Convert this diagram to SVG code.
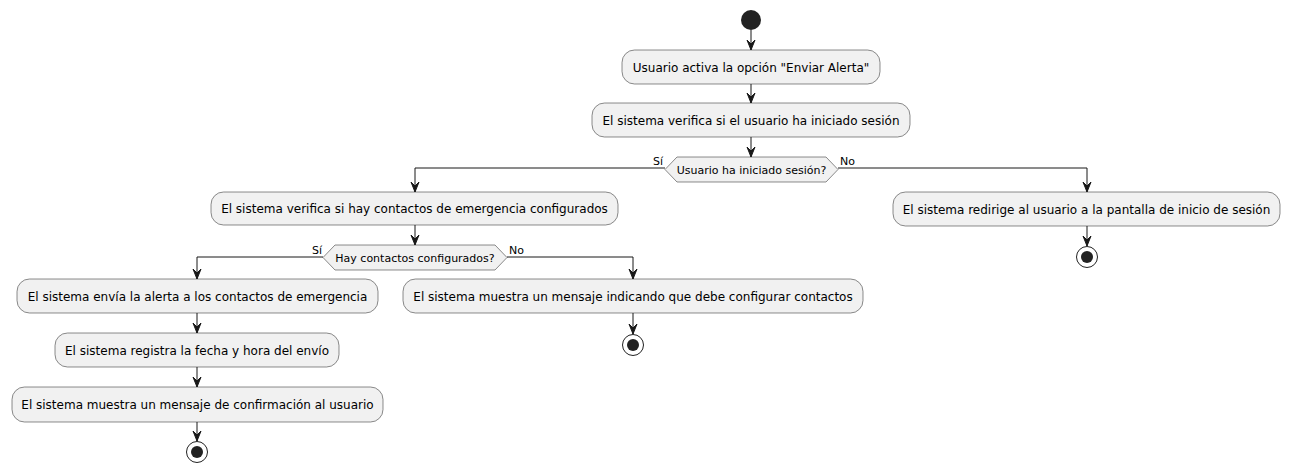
<svg xmlns="http://www.w3.org/2000/svg" width="1290" height="473" viewBox="0 0 1290 473">
<defs>
<style>
.box{fill:#F1F1F1;stroke:#181818;stroke-width:0.5}
.t{font-family:"DejaVu Sans",sans-serif;font-size:12px;fill:#000;text-anchor:middle}
.l{font-family:"DejaVu Sans",sans-serif;font-size:11px;fill:#000}
.ln{fill:none;stroke:#181818;stroke-width:1}
.ah{fill:#181818;stroke:#181818;stroke-width:1}
.st{fill:#222222}
.en{fill:none;stroke:#222222;stroke-width:1}
</style>
</defs>
<rect width="1290" height="473" fill="#FFFFFF"/>
<g id="connectors">
<path class="ln" d="M751,30 V50"/><polygon class="ah" points="747,40 751,50 755,40 751,44"/>
<path class="ln" d="M751,84 V103"/><polygon class="ah" points="747,93 751,103 755,93 751,97"/>
<path class="ln" d="M751,137 V157"/><polygon class="ah" points="747,147 751,157 755,147 751,151"/>
<path class="ln" d="M665,168 H415 V192"/><polygon class="ah" points="411,182 415,192 419,182 415,186"/>
<path class="ln" d="M838,168 H1087 V192"/><polygon class="ah" points="1083,182 1087,192 1091,182 1087,186"/>
<path class="ln" d="M1087,226 V246"/><polygon class="ah" points="1083,236 1087,246 1091,236 1087,240"/>
<path class="ln" d="M415,225 V245"/><polygon class="ah" points="411,235 415,245 419,235 415,239"/>
<path class="ln" d="M323,257 H197 V279"/><polygon class="ah" points="193,269 197,279 201,269 197,273"/>
<path class="ln" d="M507,257 H633 V279"/><polygon class="ah" points="629,269 633,279 637,269 633,273"/>
<path class="ln" d="M633,313 V334"/><polygon class="ah" points="629,324 633,334 637,324 633,328"/>
<path class="ln" d="M197,313 V333"/><polygon class="ah" points="193,323 197,333 201,323 197,327"/>
<path class="ln" d="M197,367 V387"/><polygon class="ah" points="193,377 197,387 201,377 197,381"/>
<path class="ln" d="M197,422 V441"/><polygon class="ah" points="193,431 197,441 201,431 197,435"/>
<text class="l" x="653" y="165">Sí</text>
<text class="l" x="840" y="165">No</text>
<text class="l" x="312" y="254">Sí</text>
<text class="l" x="509" y="254">No</text>
</g>
<g id="start"><circle class="st" cx="751" cy="20" r="10"/></g>
<g id="n1"><rect class="box" x="622" y="50" width="258" height="34" rx="12.5"/><text class="t" x="751" y="71.5">Usuario activa la opción "Enviar Alerta"</text></g>
<g id="n2"><rect class="box" x="592" y="103" width="318" height="34" rx="12.5"/><text class="t" x="751" y="124.5">El sistema verifica si el usuario ha iniciado sesión</text></g>
<g id="d1"><polygon class="box" points="665,169.5 677,157 826,157 838,169.5 826,182 677,182"/><text class="l" x="751.5" y="173.5" text-anchor="middle">Usuario ha iniciado sesión?</text></g>
<g id="n3"><rect class="box" x="211" y="192" width="407" height="33" rx="12.5"/><text class="t" x="414.5" y="212.5">El sistema verifica si hay contactos de emergencia configurados</text></g>
<g id="d2"><polygon class="box" points="323,257.5 335,245 495,245 507,257.5 495,270 335,270"/><text class="l" x="415" y="261.5" text-anchor="middle">Hay contactos configurados?</text></g>
<g id="n4"><rect class="box" x="17" y="279" width="361" height="34" rx="12.5"/><text class="t" x="197.5" y="300.5">El sistema envía la alerta a los contactos de emergencia</text></g>
<g id="n5"><rect class="box" x="55" y="333" width="284" height="34" rx="12.5"/><text class="t" x="197" y="354.5">El sistema registra la fecha y hora del envío</text></g>
<g id="n6"><rect class="box" x="12" y="387" width="371" height="35" rx="12.5"/><text class="t" x="197.5" y="408.5">El sistema muestra un mensaje de confirmación al usuario</text></g>
<g id="end1"><circle class="en" cx="197" cy="452" r="10.5"/><circle class="st" cx="197" cy="452" r="6"/></g>
<g id="n7"><rect class="box" x="403" y="279" width="460" height="34" rx="12.5"/><text class="t" x="633" y="300.5">El sistema muestra un mensaje indicando que debe configurar contactos</text></g>
<g id="end2"><circle class="en" cx="633" cy="345" r="10.5"/><circle class="st" cx="633" cy="345" r="6"/></g>
<g id="n8"><rect class="box" x="893" y="192" width="387" height="34" rx="12.5"/><text class="t" x="1086.5" y="213.5">El sistema redirige al usuario a la pantalla de inicio de sesión</text></g>
<g id="end3"><circle class="en" cx="1087" cy="257" r="10.5"/><circle class="st" cx="1087" cy="257" r="6"/></g>
</svg>
